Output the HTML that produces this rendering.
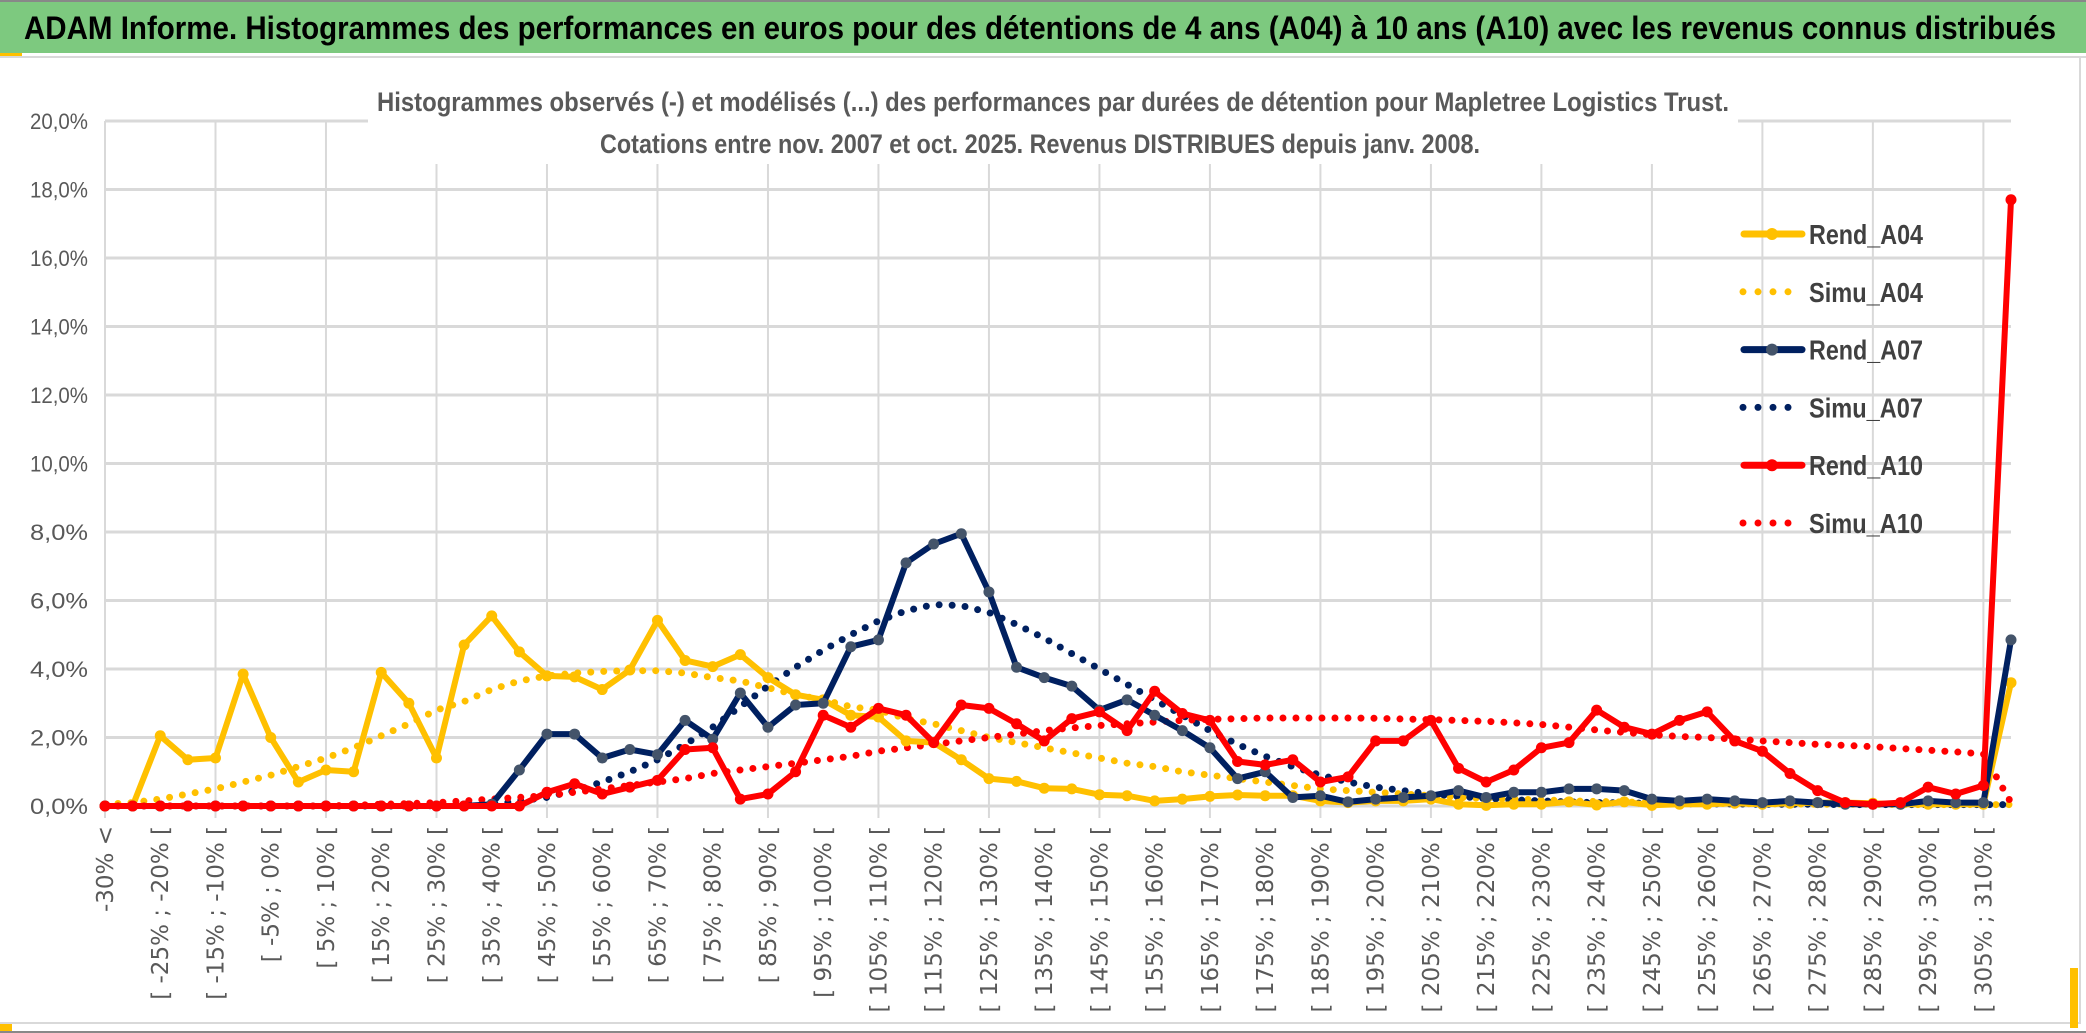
<!DOCTYPE html>
<html><head><meta charset="utf-8"><style>
html,body{margin:0;padding:0;background:#fff;}
svg{display:block;font-family:"Liberation Sans",sans-serif;}
</style></head><body>
<svg id="chart" width="2086" height="1033" viewBox="0 0 2086 1033" xmlns="http://www.w3.org/2000/svg">
<rect x="0" y="0" width="2086" height="1033" fill="#fff"/>
<rect x="0" y="0" width="2086" height="2" fill="#888"/>
<rect x="0" y="2" width="2086" height="51" fill="#7dc97f"/>
<text x="24" y="39" font-size="32" font-weight="bold" fill="#000" textLength="2032" lengthAdjust="spacingAndGlyphs">ADAM Informe. Histogrammes des performances en euros pour des détentions de 4 ans (A04) à 10 ans (A10) avec les revenus connus distribués</text>
<rect x="0" y="53" width="22" height="4" fill="#ffc000"/>
<rect x="0" y="56" width="2086" height="2" fill="#d9d9d9"/>
<rect x="0" y="1022" width="2080" height="2" fill="#d9d9d9"/>
<rect x="2079" y="56" width="2" height="968" fill="#d9d9d9"/>
<rect x="0" y="1024" width="12" height="7" fill="#ffc000"/>
<rect x="2070" y="968" width="8" height="60" fill="#ffc000"/>
<rect x="0" y="1031" width="2086" height="2" fill="#888"/>
<g id="grid"></g>
<rect x="368" y="80" width="1370" height="84" fill="#fff"/>
<text x="1053" y="111" text-anchor="middle" font-size="27" font-weight="bold" fill="#595959" textLength="1352" lengthAdjust="spacingAndGlyphs">Histogrammes observés (-) et modélisés (...) des performances par durées de détention pour Mapletree Logistics Trust.</text>
<text x="1040" y="153" text-anchor="middle" font-size="27" font-weight="bold" fill="#595959" textLength="880" lengthAdjust="spacingAndGlyphs">Cotations entre nov. 2007 et oct. 2025. Revenus DISTRIBUES depuis janv. 2008.</text>
<g id="axes"></g>
<g id="series"></g>
<g id="legend"></g>
</svg>
<script>
const categories = (function(){const c=["-30% <"];for(let a=-30;a<=310;a+=5){c.push("[ "+a+"% ; "+(a+5)+"% [");}return c;})().slice(0,70);
const yTicks = [0,2,4,6,8,10,12,14,16,18,20];
const rendA04 = [0,0,2.05,1.35,1.4,3.85,2.0,0.7,1.05,1.0,3.9,3.0,1.4,4.7,5.55,4.5,3.8,3.77,3.4,3.97,5.42,4.25,4.07,4.42,3.75,3.25,3.1,2.65,2.6,1.9,1.85,1.35,0.8,0.72,0.52,0.5,0.33,0.3,0.15,0.2,0.28,0.32,0.3,0.3,0.15,0.1,0.15,0.15,0.2,0.05,0.02,0.05,0.05,0.12,0.03,0.12,0.02,0.05,0.05,0.08,0.05,0.08,0.1,0.1,0.08,0.05,0.05,0.05,0.05,3.6];
const simuA04 = [0.05,0.1,0.2,0.35,0.5,0.7,0.9,1.15,1.4,1.7,2.05,2.4,2.8,3.05,3.4,3.65,3.8,3.88,3.93,3.95,3.95,3.88,3.75,3.65,3.45,3.25,3.1,2.9,2.8,2.55,2.4,2.2,2.0,1.85,1.7,1.55,1.4,1.25,1.15,1.0,0.9,0.8,0.7,0.6,0.5,0.45,0.4,0.35,0.3,0.25,0.22,0.2,0.18,0.15,0.13,0.12,0.1,0.09,0.08,0.07,0.06,0.06,0.05,0.05,0.05,0.04,0.04,0.04,0.04,0.04];
const rendA07 = [0,0,0,0,0,0,0,0,0,0,0,0,0,0,0.05,1.05,2.1,2.1,1.4,1.65,1.5,2.5,1.95,3.3,2.3,2.95,3.0,4.65,4.85,7.1,7.65,7.95,6.25,4.05,3.75,3.5,2.8,3.1,2.65,2.2,1.7,0.8,1.0,0.25,0.3,0.12,0.2,0.25,0.3,0.45,0.25,0.4,0.4,0.5,0.5,0.45,0.2,0.15,0.2,0.15,0.1,0.15,0.1,0.05,0.05,0.05,0.15,0.1,0.1,4.85];
const simuA07 = [0,0,0,0,0,0,0,0,0,0,0,0,0.01,0.02,0.05,0.15,0.25,0.45,0.7,1.0,1.35,1.8,2.3,2.9,3.5,4.05,4.55,5.0,5.4,5.7,5.88,5.85,5.65,5.3,4.9,4.45,4.0,3.55,3.1,2.65,2.2,1.8,1.45,1.15,0.9,0.7,0.55,0.45,0.35,0.28,0.22,0.18,0.15,0.12,0.1,0.09,0.08,0.07,0.06,0.06,0.05,0.05,0.05,0.04,0.04,0.04,0.04,0.04,0.04,0.04];
const rendA10 = [0,0,0,0,0,0,0,0,0,0,0,0,0,0,0,0,0.4,0.65,0.35,0.55,0.75,1.65,1.7,0.2,0.35,1.0,2.65,2.3,2.85,2.65,1.85,2.95,2.85,2.4,1.9,2.55,2.75,2.2,3.35,2.7,2.5,1.3,1.2,1.35,0.7,0.85,1.9,1.9,2.5,1.1,0.7,1.05,1.7,1.85,2.8,2.3,2.1,2.5,2.75,1.9,1.6,0.95,0.45,0.1,0.05,0.1,0.55,0.35,0.6,17.7];
const simuA10 = [0,0,0,0,0,0,0,0,0,0.02,0.05,0.07,0.1,0.15,0.2,0.25,0.3,0.4,0.5,0.6,0.7,0.8,0.95,1.05,1.15,1.25,1.35,1.45,1.6,1.7,1.8,1.9,2.0,2.1,2.2,2.28,2.35,2.4,2.45,2.5,2.53,2.55,2.57,2.57,2.57,2.57,2.56,2.54,2.52,2.5,2.47,2.43,2.38,2.3,2.22,2.15,2.08,2.03,2.0,1.95,1.9,1.85,1.8,1.77,1.73,1.68,1.63,1.58,1.52,0.1];

const NS="http://www.w3.org/2000/svg";
const X0=105, XN=2011, Y0=806, Y20=121;
const xs = i => X0 + i*(XN-X0)/(categories.length-1);
const ys = v => Y0 - v*(Y0-Y20)/20;
function mk(tag, attrs, parent){const e=document.createElementNS(NS,tag);for(const k in attrs)e.setAttribute(k,attrs[k]);parent.appendChild(e);return e;}

const grid=document.getElementById('grid');
yTicks.forEach(t=>{
  const l=mk('line',{x1:X0,x2:XN,y1:ys(t),y2:ys(t),stroke:'#d9d9d9','stroke-width':3},grid);
  
  
});
for(let i=0;i<categories.length;i+=4){
  const l=mk('line',{x1:xs(i),x2:xs(i),y1:ys(20),y2:Y0+12,stroke:'#d9d9d9','stroke-width':2},grid);
  
  
}
const axes=document.getElementById('axes');
yTicks.forEach(t=>{
  const tx=mk('text',{x:88,y:ys(t)+8,'text-anchor':'end','font-size':22,fill:'#595959',textLength:58,lengthAdjust:'spacingAndGlyphs'},axes);
  tx.textContent=t.toFixed(1).replace('.',',')+'%';
  
  
});
for(let i=0;i<categories.length;i+=2){
  const x=xs(i)+8, y=826;
  const tx=mk('text',{x:x,y:y,'text-anchor':'end','font-size':23,fill:'#595959','font-family':'DejaVu Sans, sans-serif',transform:'rotate(-90 '+x+' '+y+')'},axes);
  tx.textContent=categories[i];
  
  
}
const ser=document.getElementById('series');
function pts(arr){return arr.map((v,i)=>xs(i).toFixed(1)+','+ys(v).toFixed(1)).join(' ');}
function dotted(arr,color,name){
  const p=mk('polyline',{points:pts(arr),fill:'none',stroke:color,'stroke-width':7,'stroke-linecap':'round','stroke-dasharray':'0 13'},ser);
  
  
}
function solid(arr,color,mcolor,name){
  const g=mk('g',{},ser);
  
  
  mk('polyline',{points:pts(arr),fill:'none',stroke:color,'stroke-width':6,'stroke-linejoin':'round'},g);
  arr.forEach((v,i)=>{
    const c=mk('circle',{cx:xs(i),cy:ys(v),r:5.5,fill:mcolor},g);
    
    
  });
}
dotted(simuA04,'#ffc000','series-simu-a04');
dotted(simuA07,'#002060','series-simu-a07');
dotted(simuA10,'#ff0000','series-simu-a10');
solid(rendA04,'#ffc000','#ffc000','series-rend-a04');
solid(rendA07,'#002060','#44546a','series-rend-a07');
solid(rendA10,'#ff0000','#ff0000','series-rend-a10');

const legendItems=[["Rend_A04","#ffc000","#ffc000",false],["Simu_A04","#ffc000","",true],["Rend_A07","#002060","#44546a",false],["Simu_A07","#002060","",true],["Rend_A10","#ff0000","#ff0000",false],["Simu_A10","#ff0000","",true]];
const lg=document.getElementById('legend');
legendItems.forEach((it,k)=>{
  const y=234+k*57.8;
  const g=mk('g',{},lg);
  
  
  if(it[3]){
    mk('line',{x1:1743,x2:1800,y1:y,y2:y,stroke:it[1],'stroke-width':7,'stroke-linecap':'round','stroke-dasharray':'0 15'},g);
  } else {
    mk('line',{x1:1744,x2:1802,y1:y,y2:y,stroke:it[1],'stroke-width':7,'stroke-linecap':'round'},g);
    mk('circle',{cx:1772,cy:y,r:6,fill:it[2]},g);
  }
  const t=mk('text',{x:1809,y:y+10,'font-size':28,'font-weight':'bold',fill:'#404040',textLength:114,lengthAdjust:'spacingAndGlyphs'},g);
  t.textContent=it[0];
});
</script>
</body></html>
